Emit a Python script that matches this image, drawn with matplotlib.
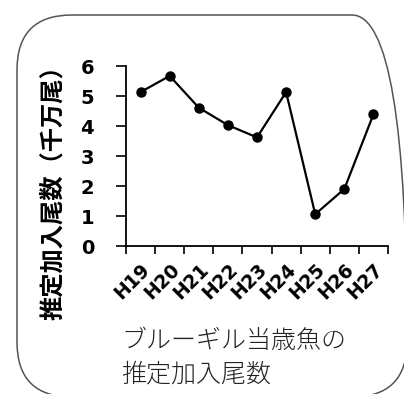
import matplotlib
matplotlib.use('Agg')
import matplotlib.pyplot as plt
from matplotlib.patches import FancyBboxPatch
from matplotlib.transforms import IdentityTransform

plt.rcParams['font.family'] = ['Noto Sans CJK JP', 'DejaVu Sans']

years = ['H19', 'H20', 'H21', 'H22', 'H23', 'H24', 'H25', 'H26', 'H27']
recruits = [5.13, 5.67, 4.61, 4.03, 3.62, 5.13, 1.06, 1.90, 4.39]
y_ticks = [0, 1, 2, 3, 4, 5, 6]
caption = ['ブルーギル当歳魚の', '推定加入尾数']

fig = plt.figure(figsize=(4.04, 3.94), dpi=100)

# rounded frame (pixel coords)
frame = FancyBboxPatch((17, -3), 390, 382, boxstyle='round,pad=0,rounding_size=55',
                       transform=IdentityTransform(), facecolor='none',
                       edgecolor='#555555', linewidth=1.1)
fig.patches.append(frame)

ax = fig.add_axes([126 / 404, 1 - 246 / 394, 262 / 404, 180 / 394])
x = list(range(len(years)))
ax.plot(x, recruits, color='black', linewidth=1.6, marker='o', markersize=6.5)

ax.set_xlim(-0.5, len(years) - 0.5)
ax.set_ylim(0, 6)
ax.set_yticks(y_ticks)
ax.set_yticklabels([str(v) for v in y_ticks], fontsize=14, fontweight='bold',
                   family='DejaVu Sans')
ax.set_xticks(x)
ax.set_xticklabels(years, rotation=45, ha='right', rotation_mode='anchor',
                   fontsize=13.5, fontweight='bold', family='DejaVu Sans')
ax.set_xticks([i - 0.5 for i in range(len(years) + 1)], minor=True)
ax.tick_params(axis='x', which='major', length=0, pad=10)
ax.tick_params(axis='x', which='minor', length=6, width=1.2, direction='out')
ax.tick_params(axis='y', length=7, width=1.2, direction='out', pad=16)

for side in ['top', 'right']:
    ax.spines[side].set_visible(False)
for side in ['left', 'bottom']:
    ax.spines[side].set_linewidth(1.3)

ax.set_ylabel('推定加入尾数（千万尾）', fontsize=17.5, fontweight='bold')
ax.yaxis.set_label_coords((65 - 126) / 262, (246 - 187) / 180)

fig.text(121 / 404, 1 - 341 / 394, caption[0], fontsize=18,
         color='#222222', ha='left', va='center', fontweight='light')
fig.text(121 / 404, 1 - 374 / 394, caption[1], fontsize=18,
         color='#222222', ha='left', va='center', fontweight='light')

fig.savefig('out.png', dpi=100)
